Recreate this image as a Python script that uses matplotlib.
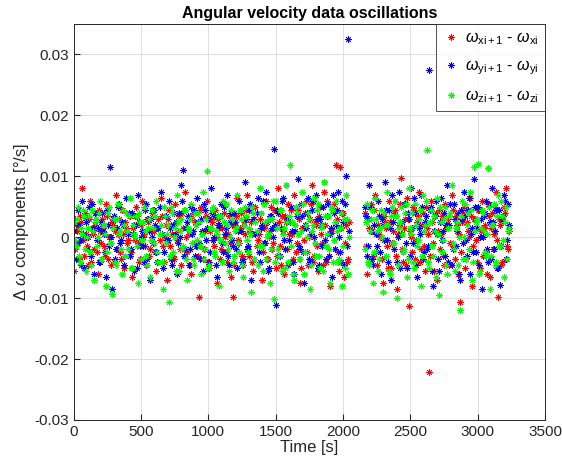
import numpy as np
import matplotlib
matplotlib.use("Agg")
import matplotlib.pyplot as plt

plt.rcParams['font.family'] = ['Liberation Sans', 'DejaVu Sans']
plt.rcParams['axes.unicode_minus'] = False
plt.rcParams['mathtext.fontset'] = 'custom'
plt.rcParams['mathtext.rm'] = 'Liberation Sans'
plt.rcParams['mathtext.it'] = 'Liberation Sans:italic'

# sampling times (s): two recording segments, two interleaved sample sets
t_seg1 = np.arange(0, 2055, 15)
t_seg2 = np.arange(2160, 3235, 15)
t_seg1b = np.arange(7.5, 2055, 15)
t_seg2b = np.arange(2167.5, 3235, 15)

# values in units of 1e-4 deg/s
red_seg1 = [-55, 20, -10, 35, 80, -30, 5, -45, 60, 15, -20, 40, -60, 10, 30, -15, 55, -35, 0, 25,
            -40, 70, 5, -25, 45, -50, 15, -5, 35, -65, 20, 50, -10, -35, 60, 5, -45, 25, -20, 40,
            10, -55, 30, 65, -15, 0, -70, 45, 20, -30, 55, -5, 35, -45, 15, 75, -25, 5, -60, 40,
            25, -15, -98, 50, -35, 10, 60, -50, 30, -5, 45, -75, 15, -20, 55, 0, -40, 35, -65, -98,
            20, 65, -10, 40, -45, 5, 70, -30, 25, -55, 50, -5, 30, -70, 15, 60, -35, 10, -20, 45,
            -50, 80, -15, 35, -60, 25, 55, -40, 5, 70, -25, 45, -75, 15, -5, 60, -45, 30, 85, -30,
            20, -55, 50, -10, 75, -40, 35, -80, 10, 55, 118, -25, 115, 40, -65, 20, -35]
red_seg2 = [40, -60, 15, 55, -30, 70, -45, 5, 35, -75, 25, -15, 60, -50, 10, 45, -85, 20, 97, -40,
            30, 65, -113, 0, 50, -35, 25, 75, -20, 40, -55, 15, -222, 60, -10, 35, -70, 45, 5, -30,
            55, 20, -45, 70, -15, 35, -60, -107, 25, 50, -35, 10, 65, -80, 30, -5, 45, -50, 60, 15,
            -25, 55, -65, 40, 5, 75, -98, 20, -40, 50, 80, -20]
red_seg1b = [-20, 10, -35, 25, -5, 40, -15, 30, -40, 5, 20, -25, 45, -10, 15, -30, 35, 0, -45, 20,
             10, -20, 30, -35, 5, 25, -10, 40, -25, 15, -5, 35, -40, 20, 0, -15, 30, -30, 10, 45,
             -25, 15, -5, 35, -40, 20, 30, -15, 5, -35, 25, 10, -20, 40, -30, 0, 15, -45, 30, -10,
             20, -30, 45, 5, -20, 35, -40, 10, 25, -15, 0, 30, -35, 15, 40, -25, 5, -10, 20, -45,
             35, -5, 15, -30, 25, 45, -20, 10, -40, 30, -15, 5, 40, -25, 20, -35, 0, 50, -10, 15,
             -30, 25, -45, 10, 35, -20, 5, 45, -35, 20, -10, 30, -50, 15, 40, -25, 0, 55, -40, 25,
             -15, 35, 5, -45, 20, 60, -30, 10, 45, -20, 30, -55, 15, 40, -10, -40, 25]
red_seg2b = [-15, 30, -40, 10, 45, -25, 20, 0, -35, 35, 15, -50, 25, -10, 40, -30, 5, 55, -20, 15,
             -45, 30, 10, -25, 45, -5, 35, -40, 20, -15, 50, 5, -30, 25, -55, 40, 10, -20, 35, -45,
             15, 30, -10, 45, -35, 20, 5, -25, 40, -50, 25, 0, 35, -15, 30, -40, 45, 10, -30, 20,
             -60, 35, 15, -20, 50, -5, 30, -45, 25, 40, -15, 10]

blue_seg1 = [10, -35, 45, -5, 60, -50, 25, 0, -25, 55, -60, 30, 15, -40, 40, 5, -65, 20, 116, -85,
             35, -20, 50, -10, 25, -45, 65, 5, -30, 40, -55, 20, 70, -15, 10, -40, 55, 30, -70, 0,
             45, -25, 15, 75, -50, 35, -5, 60, -35, 20, 5, -60, 40, 85, 110, -20, 25, -45, 50, 10,
             -30, 65, -10, 30, -55, 45, 15, -40, 80, -5, 35, -65, 20, 55, -25, 5, 70, -45, 40, -15,
             25, -50, 60, 10, -35, 90, -20, 45, -70, 30, 5, 65, -40, 20, -10, 75, -55, 35, 15, 145,
             -112, 40, -30, 60, -5, 85, -45, 25, 10, -60, 50, 95, -20, 35, -75, 15, 65, -40, 45, 0,
             70, -50, 30, -15, 90, -35, 55, 5, -65, 40, 20, 75, -25, 60, -45, 100, 326]
blue_seg2 = [50, -30, 85, 10, -45, 65, -15, 35, -60, 20, 90, -5, 45, -70, 25, 60, -40, 75, 5, -25,
             55, -50, 30, 80, -10, 40, -65, 15, 70, -35, 25, -20, 274, 50, -80, 35, 5, -55, 65, 10,
             -30, 85, 20, -45, 55, -15, 40, -70, 30, 75, -5, 45, -60, 15, 95, -25, 50, 0, -85, 35,
             60, -40, 25, 80, -20, 45, -50, -79, 30, 70, -35, 55]
blue_seg1b = [30, -10, 20, -45, 5, 35, -20, 50, -30, 15, 40, -5, -40, 25, 10, -25, 45, -15, 0, 30,
              -35, 15, 55, -5, 20, -30, 10, 40, -20, 5, 35, -50, 25, 0, -15, 45, -35, 10, 30, -10,
              20, -40, 50, 5, -25, 35, -5, 15, -45, 40, 25, -10, 0, 60, -30, 15, 35, -20, 5, 45,
              -15, 25, -35, 10, 55, -5, 30, -25, 40, 0, -45, 20, 35, -10, 50, 15, -30, 25, -5, 40,
              -20, 10, 45, -40, 20, 30, -15, 55, 5, -35, 40, -25, 15, 60, -10, 25, -50, 35, 0, 20,
              45, -30, 15, 65, -20, 30, -5, 50, -40, 10, 35, -15, 55, -25, 20, 40, -35, 5, 60, -10,
              30, -45, 20, 50, -5, 35, -30, 15, 70, -20, 45, 0, -40, 25, 55, -15, 10]
blue_seg2b = [35, -15, 50, -35, 20, 5, 60, -25, 30, -5, 45, -40, 15, 70, -20, 35, 0, -50, 25, 55,
              -10, 40, -30, 15, 65, -45, 20, 5, 50, -25, 35, -15, 45, -55, 10, 60, -35, 25, -5, 40,
              20, -40, 55, -20, 30, 10, -60, 45, -10, 35, -30, 65, 5, -25, 50, 15, -45, 30, 0, 40,
              -20, 55, -35, 25, 10, -50, 45, -15, 35, 60, -5, 20]

green_seg1 = [25, -15, 50, -40, 5, 35, -55, 15, -25, 45, -70, 30, 0, 60, -35, 20, -80, 40, -10, -93,
              30, -45, 55, 10, -60, 20, 40, -20, 65, -50, 5, 35, -75, 25, -5, 50, -30, 15, -65, 45,
              -10, 60, -40, 20, -85, 35, 5, -107, 50, -25, 15, 70, -55, 30, -15, 45, -70, 10, 55, -35,
              40, -5, 25, -60, 75, -20, 108, -45, 15, 50, -30, 5, -80, 35, 60, -10, 20, -55, 45, -40,
              10, 70, -25, 30, -65, 50, -5, 15, -90, 40, 25, -45, 80, -15, 55, -35, 5, -75, 30, -101,
              60, -20, 45, -55, 15, 85, -40, 118, 25, -70, 50, 5, -35, 75, -60, 20, 40, -85, 10, 65,
              -30, 55, -50, 20, 90, -15, 35, -75, 45, -5, 60, -40, 15, -80, 30, 70, -60]
green_seg2 = [-20, 55, -45, 30, -75, 65, 10, -35, 45, -90, 20, 75, -55, 35, -10, 60, -100, 15, 50, -25,
              40, -65, 80, 5, -40, 55, -15, 30, -80, 70, 20, 143, -50, 45, -30, 10, 65, -95, 25, -5,
              50, -60, 35, 85, -20, 15, -45, -120, 60, 0, -35, 40, 75, -70, 115, 25, 121, -55, 45, 10,
              -30, 113, -85, 20, 55, -40, 70, -15, 35, -65, 50, 10]
green_seg1b = [-5, 30, -30, 15, 45, -20, 0, 35, -45, 10, 25, -15, 40, -35, 20, 5, -25, 50, -10, 15,
               -40, 30, 5, -20, 45, -30, 10, 35, -50, 20, 0, -15, 40, -35, 25, 10, -45, 30, -5, 15,
               35, -25, 5, -40, 50, -10, 20, -30, 40, 0, -55, 25, 10, -20, 45, -35, 15, 30, -10, -45,
               20, 40, -15, 5, -35, 30, -50, 15, 45, -25, 10, 35, -5, -40, 25, 55, -20, 0, 30, -30,
               15, -10, 45, -45, 20, 35, -25, 5, 50, -35, 10, -15, 40, -55, 25, 0, 30, -20, 60, -40,
               15, -30, 45, 5, -50, 25, 35, -15, -60, 20, 40, -35, 10, 55, -25, 0, 30, -45, 20, -10,
               45, -30, 15, -55, 35, 5, -20, 50, -40, 25, 10, -35, 40, -15, -50, 30, 0]
green_seg2b = [25, -40, 10, 45, -25, 30, -55, 15, 0, 40, -30, 20, -60, 50, -10, 35, -45, 25, 5, -20,
               55, -35, 15, 40, -50, 20, -5, 45, -30, 10, 60, -40, 25, -15, 35, -65, 5, 50, -25, 30,
               -45, 15, 40, -10, -55, 25, 0, 35, -35, 55, 20, -20, 45, -40, 10, 30, -60, 15, 40, -25,
               5, 50, -30, 20, -45, 35, -15, 60, -5, 25, -35, 15]

series_labels = [r'$\omega_{\mathrm{xi+1}}$ - $\omega_{\mathrm{xi}}$',
                 r'$\omega_{\mathrm{yi+1}}$ - $\omega_{\mathrm{yi}}$',
                 r'$\omega_{\mathrm{zi+1}}$ - $\omega_{\mathrm{zi}}$']
series_colors = ['#ff0000', '#0000ff', '#00ff00']

x_ticks = [0, 500, 1000, 1500, 2000, 2500, 3000, 3500]
y_ticks = [-0.03, -0.02, -0.01, 0, 0.01, 0.02, 0.03]
y_ticklabels = ['-0.03', '-0.02', '-0.01', '0', '0.01', '0.02', '0.03']

t = np.concatenate([t_seg1, t_seg1b, t_seg2, t_seg2b])
data = [np.array(red_seg1 + red_seg1b + red_seg2 + red_seg2b) * 1e-4,
        np.array(blue_seg1 + blue_seg1b + blue_seg2 + blue_seg2b) * 1e-4,
        np.array(green_seg1 + green_seg1b + green_seg2 + green_seg2b) * 1e-4]

fig = plt.figure(figsize=(5.62, 4.69), dpi=100)
ax = fig.add_axes([0.131, 0.1045, 0.839, 0.8443])

asterisk = (8, 2, 0)
for y, c, lab in zip(data, series_colors, series_labels):
    ax.plot(t, y, linestyle='none', marker=asterisk, markersize=4.5,
            markeredgewidth=0.6, color=c, label=lab)

ax.set_xlim(0, 3500)
ax.set_ylim(-0.03, 0.035)
ax.set_xticks(x_ticks)
ax.set_yticks(y_ticks)
ax.set_yticklabels(y_ticklabels)
ax.grid(True, color='#dfdfdf', linewidth=0.7)
ax.set_axisbelow(True)
ax.tick_params(direction='in', length=4, labelsize=11, colors='#262626', top=False, right=False)
for s in ax.spines.values():
    s.set_color('#262626')
    s.set_linewidth(0.7)

ax.set_title('Angular velocity data oscillations', fontsize=11.5, fontweight='bold', pad=4)
ax.set_xlabel('Time [s]', fontsize=12, color='#262626', labelpad=1)
ax.set_ylabel(r'Δ $\omega$ components [°/s]', fontsize=12, color='#262626', labelpad=2)

leg = ax.legend(loc='upper right', fontsize=11.5, frameon=True, fancybox=False,
                borderaxespad=0, handletextpad=0.4, handlelength=1.0,
                borderpad=0.4, labelspacing=0.7, markerscale=1.0)
leg.get_frame().set_edgecolor('#262626')
leg.get_frame().set_linewidth(0.7)

fig.savefig('out.png', dpi=100)
